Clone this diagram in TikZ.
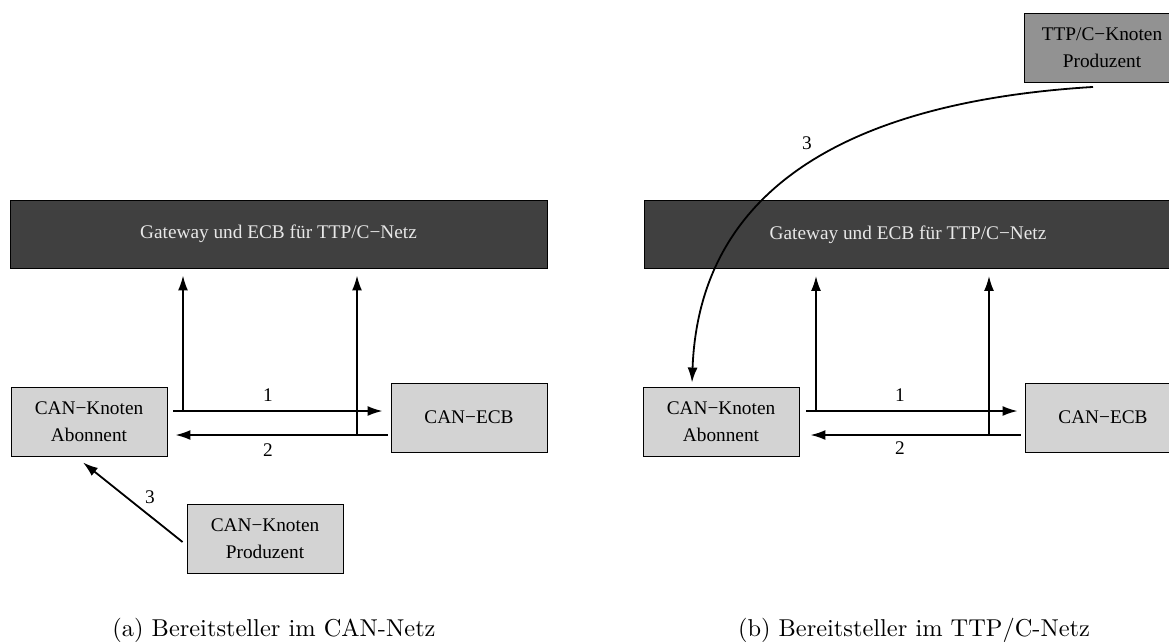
\documentclass[tikz,border=0pt]{standalone}
\usepackage{fontspec}
\newfontfamily\dfont{Liberation Serif}
\usetikzlibrary{arrows.meta}
\definecolor{gwfill}{HTML}{404040}
\definecolor{boxfill}{HTML}{D3D3D3}
\definecolor{ttpfill}{HTML}{929292}
\definecolor{gwtext}{HTML}{E8E8E8}
\newcommand\capscaled[1]{\scalebox{2.44}{\fontsize{10}{12}\selectfont #1}}
\tikzset{
  dtext/.style={font=\dfont\fontsize{19.3}{27}\selectfont},
  blkbox/.style={dtext, draw=black, line width=0.9pt, fill=boxfill,
    minimum width=156pt, minimum height=69pt, inner sep=0pt, align=center},
  gwbox/.style={blkbox, fill=gwfill, text=gwtext, minimum height=68pt},
  ttpbox/.style={blkbox, fill=ttpfill},
  arr/.style={line width=1.8pt, -{Latex[length=15pt,width=10pt]}},
  num/.style={dtext, inner sep=0pt},
  subcaption/.style={anchor=base, inner sep=0pt}
}
\begin{document}
\begin{tikzpicture}[x=1pt,y=-1pt]
\useasboundingbox (0,0) rectangle (1169,641);
\clip (0,0) rectangle (1169,641);

% ---- (a) provider inside the CAN network ----
\node[gwbox, minimum width=537pt] (gwL) at (278.5,234) {Gateway und ECB für TTP/C−Netz};
\node[blkbox] (aboL) at (89,421.5) {CAN−Knoten\\Abonnent};
\node[blkbox] (ecbL) at (469,417.5) {CAN−ECB};
\node[blkbox] (prodL) at (265,538.5) {CAN−Knoten\\Produzent};

\draw[arr] ([shift={(6pt,10.5pt)}]aboL.east) -- ([shift={(-8pt,6.5pt)}]ecbL.west);
\draw[arr] ([shift={(-3pt,-17.5pt)}]ecbL.west) -- ([shift={(8pt,-13.5pt)}]aboL.east);
\coordinate (j1L) at (183,411);
\coordinate (j2L) at (357,435);
\draw[arr, shorten >=7pt] (j1L) -- (j1L |- gwL.south);
\draw[arr, shorten >=7pt] (j2L) -- (j2L |- gwL.south);
\draw[arr] ([shift={(-4pt,-3.5pt)}]prodL.west) -- ([shift={(-6pt,-6pt)}]aboL.south);

\node[num] (n1L) at (268,395) {1};
\node[num] (n2L) at (268,450) {2};
\node[num] (n3L) at (150,497.5) {3};

\node[subcaption] (capA) at (274,636) {\capscaled{(a) Bereitsteller im CAN-Netz}};

% ---- (b) provider inside the TTP/C network ----
\node[gwbox, minimum width=528pt] (gwR) at (908,234.5) {Gateway und ECB für TTP/C−Netz};
\node[blkbox] (aboR) at (721,421.5) {CAN−Knoten\\Abonnent};
\node[blkbox] (ecbR) at (1103,417.5) {CAN−ECB};
\node[ttpbox] (ttp) at (1102,48) {TTP/C−Knoten\\Produzent};

\draw[arr] ([shift={(7pt,10.5pt)}]aboR.east) -- ([shift={(-7pt,6.5pt)}]ecbR.west);
\draw[arr] ([shift={(-4pt,-17.5pt)}]ecbR.west) -- ([shift={(11pt,-13.5pt)}]aboR.east);
\coordinate (j1R) at (816,411);
\coordinate (j2R) at (989,435);
\draw[arr, shorten >=7pt] (j1R) -- (j1R |- gwR.south);
\draw[arr, shorten >=7pt] (j2R) -- (j2R |- gwR.south);
\draw[arr] ([shift={(-9pt,-4pt)}]ttp.south) .. controls (880,100) and (700,170) .. ([shift={(-29pt,4pt)}]aboR.north);

\node[num] (n1R) at (900,395) {1};
\node[num] (n2R) at (900,448) {2};
\node[num] (n3R) at (807,143) {3};

\node[subcaption] (capB) at (914,636) {\capscaled{(b) Bereitsteller im TTP/C-Netz}};
\end{tikzpicture}
\end{document}
